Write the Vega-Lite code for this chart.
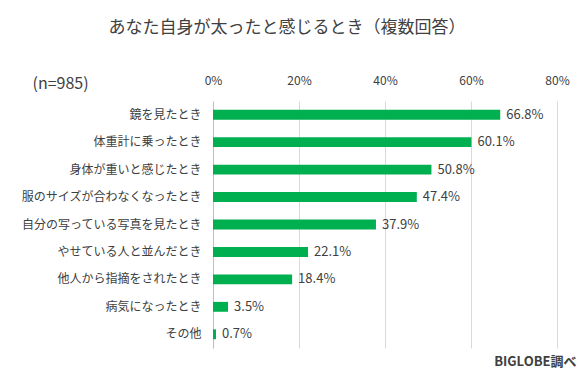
{
  "$schema": "https://vega.github.io/schema/vega-lite/v6.json",
  "autosize": {"type": "none"},
  "width": 344,
  "height": 247,
  "padding": {"left": 213, "top": 101, "right": 30, "bottom": 31},
  "background": "white",
  "config": {
    "font": "Noto Sans CJK JP",
    "view": {"stroke": null},
    "text": {"font": "Noto Sans CJK JP"}
  },
  "title": {
    "text": "あなた自身が太ったと感じるとき（複数回答）",
    "fontSize": 17,
    "fontWeight": "normal",
    "color": "#404040",
    "anchor": "middle",
    "dx": -98,
    "offset": 37,
    "font": "Noto Sans CJK JP"
  },
  "data": {
    "values": [
      {"item": "鏡を見たとき", "value": 0.668},
      {"item": "体重計に乗ったとき", "value": 0.601},
      {"item": "身体が重いと感じたとき", "value": 0.508},
      {"item": "服のサイズが合わなくなったとき", "value": 0.474},
      {"item": "自分の写っている写真を見たとき", "value": 0.379},
      {"item": "やせている人と並んだとき", "value": 0.221},
      {"item": "他人から指摘をされたとき", "value": 0.184},
      {"item": "病気になったとき", "value": 0.035},
      {"item": "その他", "value": 0.007}
    ]
  },
  "encoding": {
    "y": {
      "field": "item",
      "type": "nominal",
      "sort": null,
      "scale": {"paddingInner": 0.64, "paddingOuter": 0.32},
      "axis": {
        "title": "(n=985)",
        "titleAngle": 0,
        "titleAlign": "left",
        "titleBaseline": "middle",
        "titleX": -181,
        "titleY": -18,
        "titleFontSize": 16,
        "titleFontWeight": "normal",
        "titleColor": "#404040",
        "titleFont": "Noto Sans CJK JP",
        "labelFontSize": 12,
        "labelColor": "#404040",
        "labelFont": "Noto Sans CJK JP",
        "labelPadding": 12,
        "labelLimit": 0,
        "ticks": false,
        "domain": true,
        "domainColor": "#bfbfbf",
        "grid": false
      }
    }
  },
  "layer": [
    {
      "mark": {"type": "bar", "color": "#00B050"},
      "encoding": {
        "x": {
          "field": "value",
          "type": "quantitative",
          "scale": {"domain": [0, 0.8], "nice": false},
          "axis": {
            "orient": "top",
            "format": ".0%",
            "values": [0, 0.2, 0.4, 0.6, 0.8],
            "title": null,
            "labelFontSize": 12,
            "labelColor": "#404040",
            "labelFont": "Noto Sans CJK JP",
            "labelPadding": 14,
            "labelFlush": false,
            "ticks": false,
            "domain": false,
            "grid": true,
            "gridColor": "#d9d9d9"
          }
        }
      }
    },
    {
      "mark": {"type": "text", "align": "left", "dx": 6, "fontSize": 13, "color": "#404040", "font": "Noto Sans CJK JP"},
      "encoding": {
        "x": {
          "field": "value",
          "type": "quantitative",
          "axis": {
            "orient": "bottom",
            "labels": false,
            "ticks": false,
            "domain": false,
            "grid": false,
            "title": "BIGLOBE調べ",
            "titleAnchor": "end",
            "titleAlign": "right",
            "titleX": 363,
            "titleY": 7,
            "titleFontSize": 13,
            "titleFontWeight": "bold",
            "titleColor": "#404040",
            "titleFont": "Noto Sans CJK JP"
          }
        },
        "text": {"field": "value", "type": "quantitative", "format": ".1%"}
      }
    }
  ],
  "resolve": {"axis": {"x": "independent"}}
}
